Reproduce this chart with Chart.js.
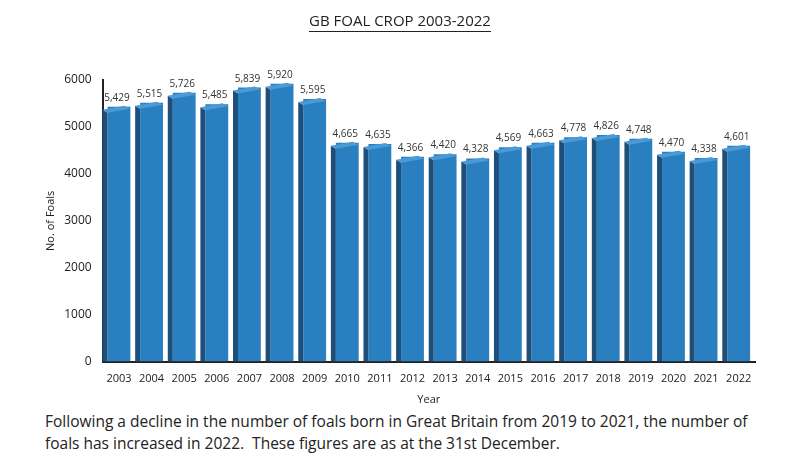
<!DOCTYPE html>
<html><head><meta charset="utf-8">
<script src="https://cdn.jsdelivr.net/npm/chart.js@4"></script>
<style>
body{margin:0;background:#fff;font-family:'Open Sans',sans-serif;}
#ttl{position:absolute;left:0;top:10px;width:800px;text-align:center;font-size:15px;color:#222;}
#ttl span{border-bottom:1px solid #222;padding-bottom:1px;}
#wrap{position:relative;width:800px;height:410px;}
#cap{position:absolute;left:45px;top:410px;width:725px;font-size:15.5px;line-height:22px;color:#222;}
</style></head><body>
<div id="wrap"><canvas id="c"></canvas></div>
<div id="ttl"><span>GB FOAL CROP 2003-2022</span></div>
<div id="cap">Following a decline in the number of foals born in Great Britain from 2019 to 2021, the number of foals has increased in 2022.&nbsp; These figures are as at the 31st December.</div>
<script>
var years = ['2003','2004','2005','2006','2007','2008','2009','2010','2011','2012','2013','2014','2015','2016','2017','2018','2019','2020','2021','2022'];
var foals = [5429,5515,5726,5485,5839,5920,5595,4665,4635,4366,4420,4328,4569,4663,4778,4826,4748,4470,4338,4601];

var bar3d = {
  id: 'bar3d',
  afterDatasetsDraw: function (chart) {
    var ctx = chart.ctx;
    chart.getDatasetMeta(0).data.forEach(function (b, i) {
      var w = b.width, x0 = b.x - w / 2, y0 = b.y, yb = b.base;
      ctx.save();
      ctx.fillStyle = '#1d4f7a';
      ctx.beginPath();
      ctx.moveTo(x0 - 5, y0 + 3); ctx.lineTo(x0, y0 + 6); ctx.lineTo(x0, yb); ctx.lineTo(x0 - 5, yb);
      ctx.closePath(); ctx.fill();
      ctx.fillStyle = '#4a9ad6';
      ctx.beginPath();
      ctx.moveTo(x0 - 5, y0 + 3); ctx.lineTo(x0 + w - 6, y0 - 1); ctx.lineTo(x0 + w, y0 + 2); ctx.lineTo(x0, y0 + 6);
      ctx.closePath(); ctx.fill();
      ctx.fillStyle = '#333';
      ctx.font = '10px "Open Sans"';
      ctx.textAlign = 'center';
      ctx.fillText(foals[i].toLocaleString('en-GB'), b.x - 2, y0 - 6);
      ctx.restore();
    });
  }
};

new Chart(document.getElementById('c'), {
  type: 'bar',
  data: { labels: years, datasets: [{ data: foals, backgroundColor: '#2a7fc0', barPercentage: 0.7, categoryPercentage: 1 }] },
  options: {
    responsive: true, maintainAspectRatio: false, animation: false,
    layout: { padding: { left: 40, right: 45, top: 80, bottom: 0 } },
    plugins: { legend: { display: false }, tooltip: { enabled: false } },
    scales: {
      x: { grid: { display: false }, border: { color: '#222', width: 2 }, ticks: { color: '#222', font: { family: 'Open Sans', size: 11 } },
           title: { display: true, text: 'Year', color: '#222', font: { family: 'Open Sans', size: 11 } } },
      y: { min: 0, max: 6000, grid: { display: false }, border: { color: '#222', width: 2 },
           ticks: { stepSize: 1000, color: '#222', font: { family: 'Open Sans', size: 12 }, callback: function (v) { return String(v); } },
           title: { display: true, text: 'No. of Foals', color: '#222', font: { family: 'Open Sans', size: 11 } } }
    }
  },
  plugins: [bar3d]
});
</script></body></html>
